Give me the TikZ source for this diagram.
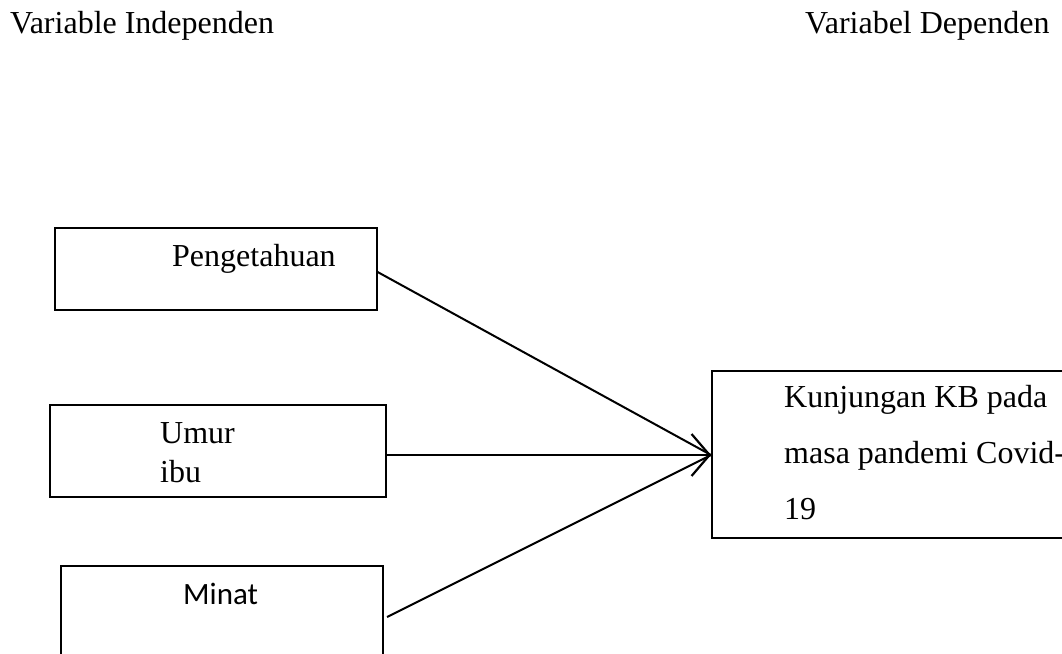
\documentclass[tikz,border=0pt]{standalone}
\usepackage{fontspec}
\setmainfont{Liberation Serif}
\newfontfamily\calib{Carlito}
\usetikzlibrary{arrows.meta}
\begin{document}
\begin{tikzpicture}[x=1pt,y=-1pt,
  box/.style={draw,line width=1.6pt,inner sep=0pt,anchor=north west},
  lbl/.style={inner sep=0pt,anchor=base west,font=\fontsize{32}{38}\selectfont},
  conn/.style={line width=2pt},
  barbtip/.style={-{Straight Barb[length=18pt,width=42pt,line width=2.2pt]}}]
\useasboundingbox (0,0) rectangle (1062,653);
% headers
\node[lbl] (hi) at (10,33) {Variable Independen};
\node[lbl] (hd) at (805,33) {Variabel Dependen};
% boxes
\node[box,minimum width=322pt,minimum height=82pt] (p) at (54,227) {};
\node[box,minimum width=336pt,minimum height=92pt] (u) at (49,404) {};
\node[box,minimum width=322pt,minimum height=140pt] (m) at (60,565) {};
\node[box,minimum width=400pt,minimum height=167pt] (k) at (711,370) {};
% texts
\node[lbl] (pt) at (172,266) {Pengetahuan};
\node[lbl] (ut1) at (160,443) {Umur};
\node[lbl] (ut2) at (160,482) {ibu};
\node[lbl,font=\calib\fontsize{31}{38}\selectfont] (mt) at (183,604) {Minat};
\node[lbl] (kt1) at (784,407) {Kunjungan KB pada};
\node[lbl] (kt2) at (784,463) {masa pandemi Covid-};
\node[lbl] (kt3) at (784,519) {19};
% connectors
\coordinate (ktip) at (k.west |- 0,455);
\coordinate (ps) at (p.east |- 0,272);
\coordinate (us) at (u.east |- 0,455);
\coordinate (ms) at (387,617);
\draw[conn] (ps) -- (ktip);
\draw[conn,line width=1.4pt,barbtip] (us) -- (ktip);
\draw[conn] (ms) -- (ktip);
\end{tikzpicture}
\end{document}
